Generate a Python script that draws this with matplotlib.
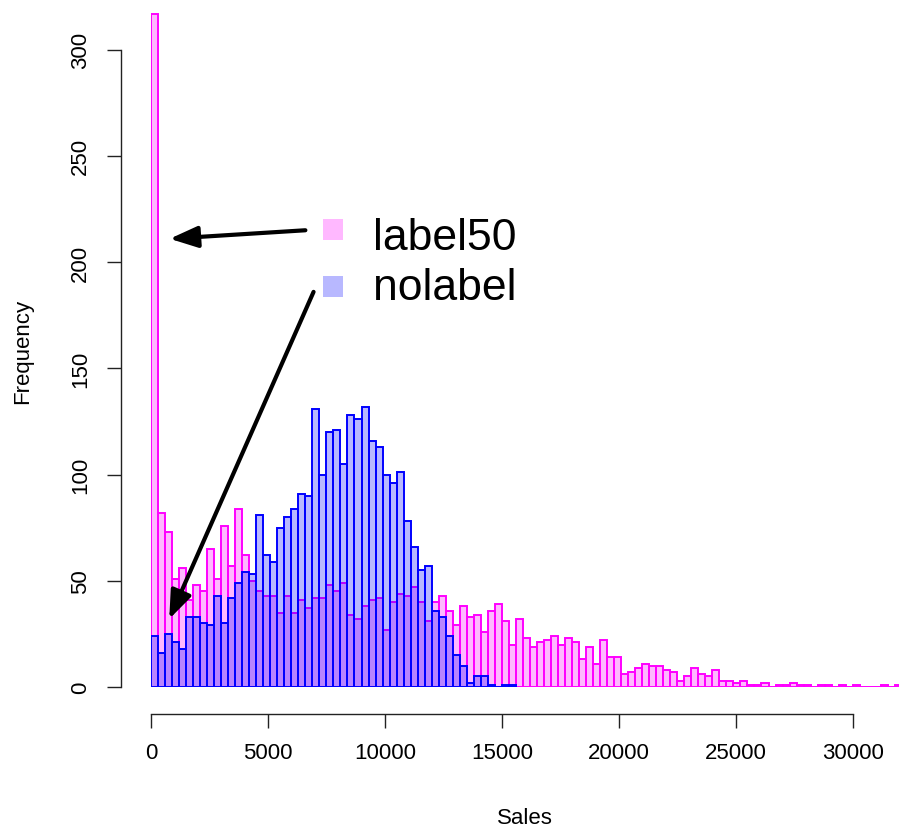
import numpy as np
import matplotlib
matplotlib.use("Agg")
import matplotlib.pyplot as plt
from matplotlib.patches import Rectangle

plt.rcParams['font.family'] = ['Liberation Sans', 'DejaVu Sans']

# histogram counts, bins of 300 starting at 0
bin_width = 300
label50 = [317, 82, 73, 51, 56, 41, 48, 45, 65, 51,
           76, 57, 84, 62, 50, 45, 43, 43, 35, 43,
           35, 41, 37, 42, 42, 48, 45, 49, 34, 32,
           38, 41, 42, 27, 40, 44, 43, 47, 40, 31,
           40, 43, 36, 29, 38, 33, 34, 26, 36, 39,
           31, 20, 32, 23, 19, 21, 22, 24, 20, 23,
           21, 13, 19, 11, 22, 14, 14, 6, 7, 9,
           11, 10, 10, 8, 7, 3, 5, 9, 6, 5,
           8, 3, 3, 2, 3, 1, 1, 2, 0, 1,
           1, 2, 1, 1, 0, 1, 1, 0, 1, 0,
           1, 0, 0, 0, 1, 0, 1]
nolabel = [24, 16, 25, 21, 18, 33, 33, 30, 29, 43,
           30, 42, 49, 54, 53, 81, 62, 59, 75, 80,
           84, 91, 90, 131, 100, 120, 121, 105, 128, 126,
           132, 116, 113, 100, 96, 101, 78, 66, 55, 57,
           36, 33, 24, 15, 10, 2, 5, 5, 1, 0,
           1, 1]

series_names = ["label50", "nolabel"]
fill_colors = [(1, 0, 1, 0.28), (0, 0, 1, 0.28)]
edge_colors = ["#ff00ff", "#0000ff"]

x_ticks = [0, 5000, 10000, 15000, 20000, 25000, 30000]
y_ticks = [0, 50, 100, 150, 200, 250, 300]

W, H = 899, 829
fig = plt.figure(figsize=(W / 100, H / 100), dpi=100)
ax = fig.add_axes([151 / W, (H - 688) / H, 748.5 / W, 679.8 / H])

for counts, fc, ec in zip([label50, nolabel], fill_colors, edge_colors):
    lefts = np.arange(len(counts)) * bin_width
    ax.bar(lefts, counts, width=bin_width, align='edge', color=fc,
           edgecolor=ec, linewidth=1.4)

ax.set_xlim(0, 32000)
ax.set_ylim(0, 320)

# R-style detached axes
for s in ["top", "right"]:
    ax.spines[s].set_visible(False)
ax.spines["left"].set_position(("outward", 21.6))
ax.spines["bottom"].set_position(("outward", 19.4))
ax.spines["left"].set_bounds(0, 300)
ax.spines["bottom"].set_bounds(0, 30000)
for s in ["left", "bottom"]:
    ax.spines[s].set_linewidth(1.0)
    ax.spines[s].set_color("#222222")

ax.set_xticks(x_ticks)
ax.set_xticklabels([str(t) for t in x_ticks], fontsize=16)
ax.set_yticks(y_ticks)
ax.set_yticklabels([str(t) for t in y_ticks], fontsize=16, rotation=90, va='center')
ax.tick_params(axis='both', direction='out', length=10.4, width=1.0, color="#222222")
ax.tick_params(axis='x', pad=10)
ax.tick_params(axis='y', pad=11)

ax.set_xlabel("Sales", fontsize=16)
ax.xaxis.set_label_coords(0.5, -0.176)
ax.set_ylabel("Frequency", fontsize=16, va='center')
ax.yaxis.set_label_coords(-0.172, 0.495)

# arrows
arrow_kw = dict(arrowstyle="-|>,head_length=1.7,head_width=0.65", mutation_scale=10,
                color="black", lw=3, shrinkA=0, shrinkB=0)
ax.annotate("", xy=(800, 211), xytext=(6600, 215), arrowprops=arrow_kw)
ax.annotate("", xy=(780, 32), xytext=(6950, 186), arrowprops=arrow_kw)

# legend (no box)
legend_sq = [(323, 220), (323, 277)]
legend_base = [250, 300]
for name, fc, (sx, sy), by in zip(series_names, fill_colors, legend_sq, legend_base):
    fig.add_artist(Rectangle((sx / W, 1 - (sy + 21) / H), 20 / W, 21 / H,
                             transform=fig.transFigure, facecolor=fc, edgecolor='none'))
    fig.text(373 / W, 1 - by / H, name, fontsize=32, va='baseline', ha='left')

fig.savefig("out.png", dpi=100)
